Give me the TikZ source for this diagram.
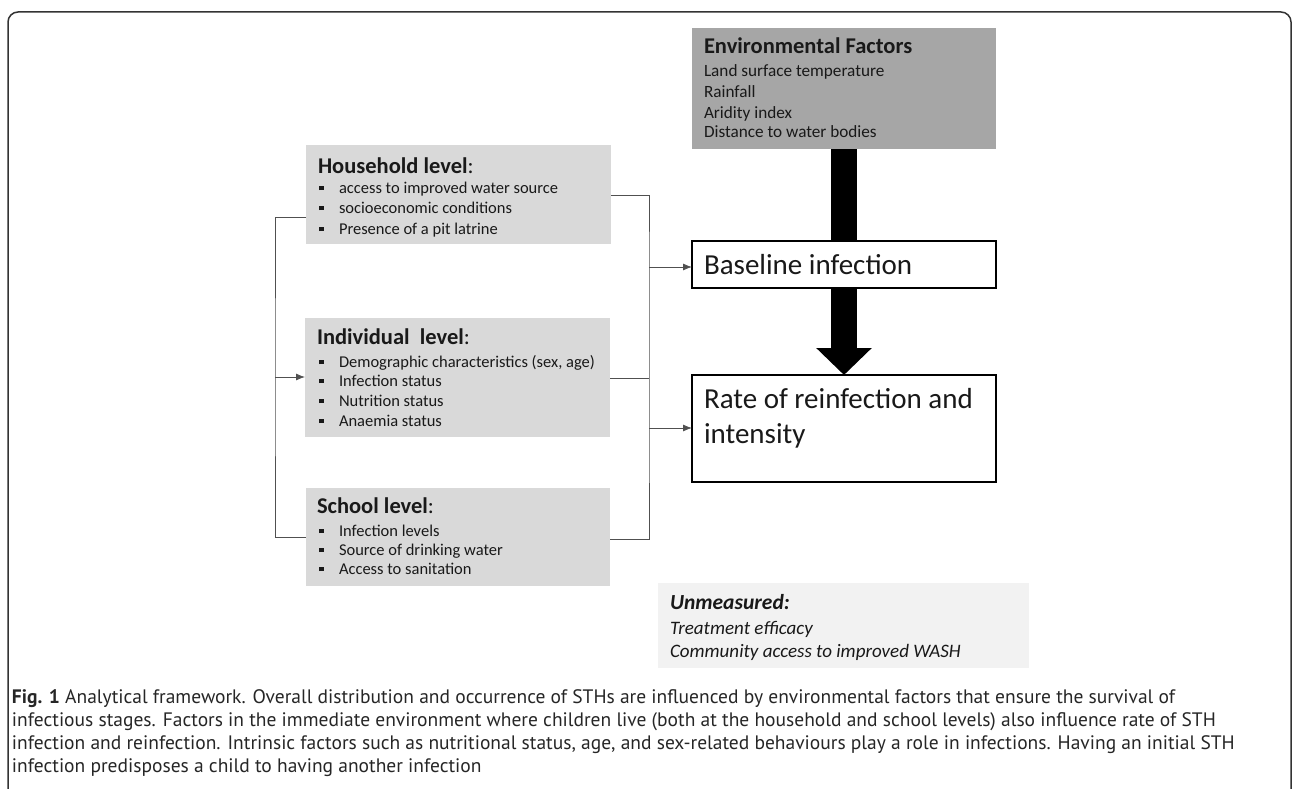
\documentclass[tikz,border=0pt]{standalone}
\usepackage{fontspec}
\setmainfont{Carlito}
\newfontfamily\capfont{PT Sans}
\usetikzlibrary{arrows.meta}
\definecolor{envgray}{HTML}{A6A6A6}
\definecolor{lvlgray}{HTML}{D9D9D9}
\definecolor{unmgray}{HTML}{F2F2F2}
\definecolor{linegray}{HTML}{505050}
\definecolor{framegray}{HTML}{333333}
\newcommand\bulitem[1]{\makebox[20pt][l]{\raisebox{3pt}{\rule{4.5pt}{4.5pt}}}#1}
\begin{document}
\begin{tikzpicture}[x=1pt,y=-1pt,
  envbox/.style={draw=none,fill=envgray,anchor=north west,inner sep=0,outer sep=0},
  lvlbox/.style={draw=none,fill=lvlgray,anchor=north west,inner sep=0,outer sep=0},
  unmbox/.style={draw=none,fill=unmgray,anchor=north west,inner sep=0,outer sep=0},
  outbox/.style={draw=black,line width=1.3pt,fill=white,anchor=north west,inner sep=0,outer sep=0},
  txt/.style={anchor=base west,inner sep=0,outer sep=0,text=black!90},
  ttl/.style={txt,font=\fontsize{22.5}{26}\selectfont\bfseries},
  itm/.style={txt,font=\fontsize{16.5}{20}\selectfont},
  envitm/.style={txt,font=\fontsize{17.2}{20}\selectfont},
  big/.style={txt,font=\fontsize{29}{34}\selectfont},
  captxt/.style={txt,font=\capfont\fontsize{19.5}{23}\selectfont,text=black!85},
  conn/.style={draw=linegray,line width=0.8pt},
  tip/.style={-{Latex[length=9pt,width=7pt]}}]
\useasboundingbox (0,0) rectangle (1292,789);
% outer frame
\draw[framegray,line width=1.5pt,rounded corners=10pt] (8,795) -- (8,12) -- (1291,12) -- (1291,795);

% boxes
\node[envbox,minimum width=304pt,minimum height=121pt] (env) at (692,28) {};
\node[lvlbox,minimum width=305pt,minimum height=99pt] (hh) at (306,145) {};
\node[lvlbox,minimum width=305pt,minimum height=119pt] (ind) at (305,318) {};
\node[lvlbox,minimum width=304pt,minimum height=98pt] (sch) at (306,488) {};
\node[unmbox,minimum width=371pt,minimum height=85pt] (unm) at (658,583) {};

% thick arrow env -> rate (behind baseline box)
\node[outbox,minimum width=304pt,minimum height=107pt] (rate) at (692,375) {};
\draw[line width=26pt,-{Triangle[length=27pt,width=54pt]}] (rate.north |- env.south) -- (rate.north);
\node[outbox,minimum width=304pt,minimum height=47pt] (base) at (692,241) {};

% env text
\node[txt,font=\fontsize{22.5}{26}\selectfont\bfseries] (envt) at (704,54) {Environmental Factors};
\node[envitm] (env1) at (704,77) {Land surface temperature};
\node[envitm] (env2) at (704,98) {Rainfall};
\node[envitm] (env3) at (704,118) {Aridity index};
\node[envitm] (env4) at (704,138) {Distance to water bodies};

% household
\node[ttl] (hht) at (318,173) {Household level\textmd{:}};
\node[itm] (hh1) at (319,193) {\bulitem{access to improved water source}};
\node[itm] (hh2) at (319,213) {\bulitem{socioeconomic conditions}};
\node[itm] (hh3) at (319,234) {\bulitem{Presence of a pit latrine}};

% individual
\node[ttl] (indt) at (317,344) {Individual\ \ level\textmd{:}};
\node[itm] (ind1) at (319,367) {\bulitem{Demographic characteristics (sex, age)}};
\node[itm] (ind2) at (319,386) {\bulitem{Infection status}};
\node[itm] (ind3) at (319,406) {\bulitem{Nutrition status}};
\node[itm] (ind4) at (319,426) {\bulitem{Anaemia status}};

% school
\node[ttl] (scht) at (317,513) {School level\textmd{:}};
\node[itm] (sch1) at (319,536) {\bulitem{Infection levels}};
\node[itm] (sch2) at (319,555) {\bulitem{Source of drinking water}};
\node[itm] (sch3) at (319,574) {\bulitem{Access to sanitation}};

% outcome boxes text
\node[big] (baset) at (704,274) {Baseline infection};
\node[big] (rate1) at (704,408) {Rate of reinfection and};
\node[big] (rate2) at (704,443) {intensity};

% unmeasured
\node[txt,font=\fontsize{21.5}{25}\selectfont\bfseries\itshape] (unmt) at (670,609) {Unmeasured:};
\node[txt,font=\fontsize{19}{22}\selectfont\itshape] (unm1) at (670,634) {Treatment efficacy};
\node[txt,font=\fontsize{19}{22}\selectfont\itshape] (unm2) at (670,657) {Community access to improved WASH};

% connectors
\coordinate (lbx) at (275,377);
\coordinate (rb1) at (649,267);
\coordinate (rb2) at (649,428);
\draw[conn] (hh.west |- 0,217) -| (lbx) |- (sch.west |- 0,537);
\draw[conn,tip] (lbx) -- (ind.west |- lbx);
\draw[conn] (hh.east |- 0,195) -| (rb1) -- (rb2) |- (sch.east |- 0,539);
\draw[conn] (ind.east |- 0,378) -- (rb1 |- 0,378);
\draw[conn,tip] (rb1) -- (base.west |- rb1);
\draw[conn,tip] (rb2) -- (rate.west |- rb2);

% caption
\node[captxt] (cap1) at (12,703) {\textbf{Fig. 1} Analytical framework. Overall distribution and occurrence of STHs are influenced by environmental factors that ensure the survival of};
\node[captxt] (cap2) at (12,726) {infectious stages. Factors in the immediate environment where children live (both at the household and school levels) also influence rate of STH};
\node[captxt] (cap3) at (12,749) {infection and reinfection. Intrinsic factors such as nutritional status, age, and sex-related behaviours play a role in infections. Having an initial STH};
\node[captxt] (cap4) at (12,772) {infection predisposes a child to having another infection};
\end{tikzpicture}
\end{document}
